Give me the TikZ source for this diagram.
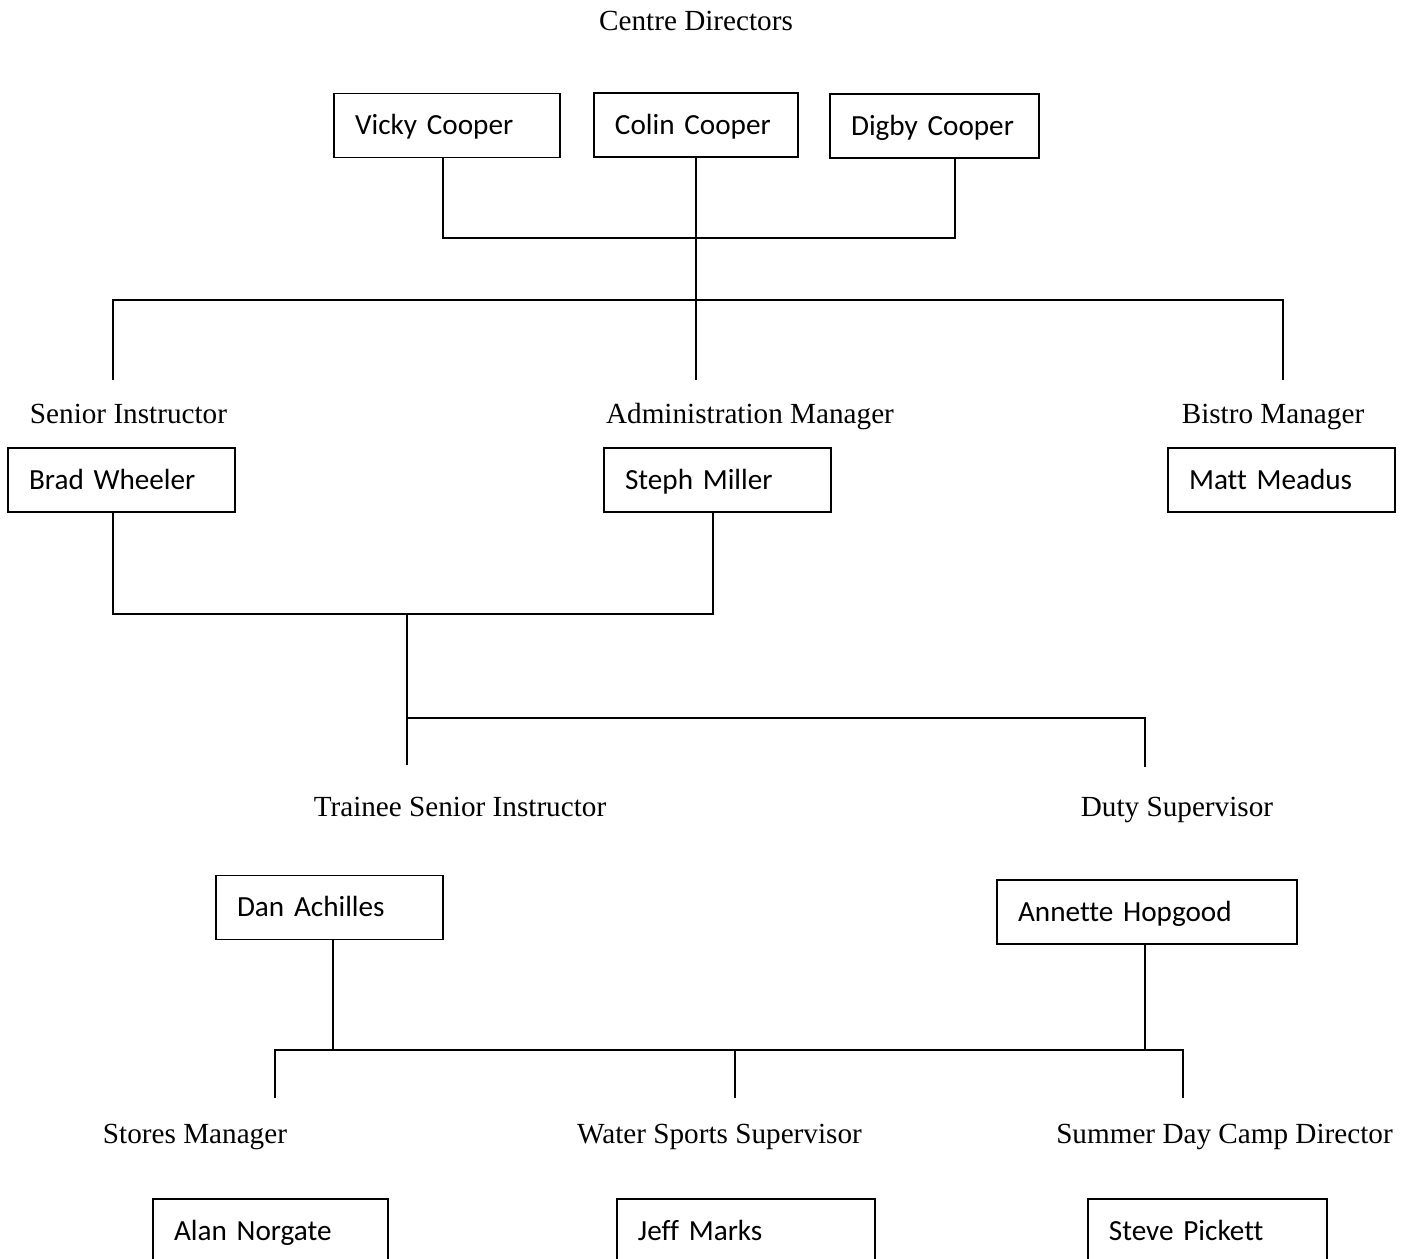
\documentclass[tikz,border=0pt]{standalone}
\usepackage{fontspec}
\setmainfont{Liberation Serif}
\newfontfamily\boxfont[Ligatures=NoCommon]{Carlito}
\begin{document}
\begin{tikzpicture}[x=0.411pt,y=-0.411pt,line width=0.75pt,
  post/.style={font=\fontsize{12}{14}\selectfont,anchor=base,inner sep=0pt},
  box/.style={draw,line width=0.7pt,font=\boxfont\fontsize{12}{14}\selectfont,
    align=left,inner xsep=8.6pt,inner ysep=0pt,minimum height=26.3pt,
    text height=9.8pt,text depth=2.2pt}]
\useasboundingbox (0,0) rectangle (1415,1259);
% directors
\node[post] (cd) at (696,31) {Centre Directors};
\node[box,text width=75.6pt] (vicky) at (447,125.5) {Vicky Cooper};
\node[box,text width=66.6pt] (colin) at (696,125) {Colin Cooper};
\node[box,text width=68.6pt] (digby) at (934.5,126) {Digby Cooper};
% second level
\node[post] (senior) at (128.5,423) {Senior Instructor};
\node[post] (admin) at (750,423) {Administration Manager};
\node[post] (bistro) at (1273,423) {Bistro Manager};
\node[box,text width=76pt] (brad) at (121.5,480) {Brad Wheeler};
\node[box,text width=76pt] (steph) at (717.5,480) {Steph Miller};
\node[box,text width=76pt] (matt) at (1281.5,480) {Matt Meadus};
% third level
\node[post] (trainee) at (460,816) {Trainee Senior Instructor};
\node[post] (duty) at (1177,816) {Duty Supervisor};
\node[box,text width=76pt] (dan) at (329.5,907.5) {Dan Achilles};
\node[box,text width=106pt] (annette) at (1147,912) {Annette Hopgood};
% fourth level
\node[post] (stores) at (195,1143) {Stores Manager};
\node[post] (water) at (719.5,1143) {Water Sports Supervisor};
\node[post] (camp) at (1224.5,1143) {Summer Day Camp Director};
\node[box,text width=79.3pt] (alan) at (270.5,1231) {Alan Norgate};
\node[box,text width=88.8pt] (jeff) at (746,1231) {Jeff Marks};
\node[box,text width=81pt] (steve) at (1207.5,1231) {Steve Pickett};
% junctions and line ends
\coordinate (dj) at (696,238);
\coordinate (h1) at (696,300);
\coordinate (sr) at (113,380);
\coordinate (am) at (696,380);
\coordinate (bm) at (1283,380);
\coordinate (h2) at (407,614);
\coordinate (h3) at (407,718);
\coordinate (ts) at (407,765);
\coordinate (ds) at (1145,767);
\coordinate (h4) at (735,1050);
\coordinate (sm) at (275,1098);
\coordinate (ws) at (735,1098);
\coordinate (sd) at (1183,1098);
% connectors
\draw ([xshift=-1.6pt]vicky.south) |- (dj) -| ([xshift=8.4pt]digby.south);
\draw (colin.south) -- (am);
\draw (sr) |- (h1) -| (bm);
\draw ([xshift=-3.5pt]brad.south) |- (h2) -| ([xshift=-1.8pt]steph.south);
\draw (h2) -- (ts);
\draw (h3) -| (ds);
\draw ([xshift=1.4pt]dan.south) |- (h4) -| ([xshift=-0.8pt]annette.south);
\draw (sm) |- (h4) -| (sd);
\draw (h4) -- (ws);
\end{tikzpicture}
\end{document}
